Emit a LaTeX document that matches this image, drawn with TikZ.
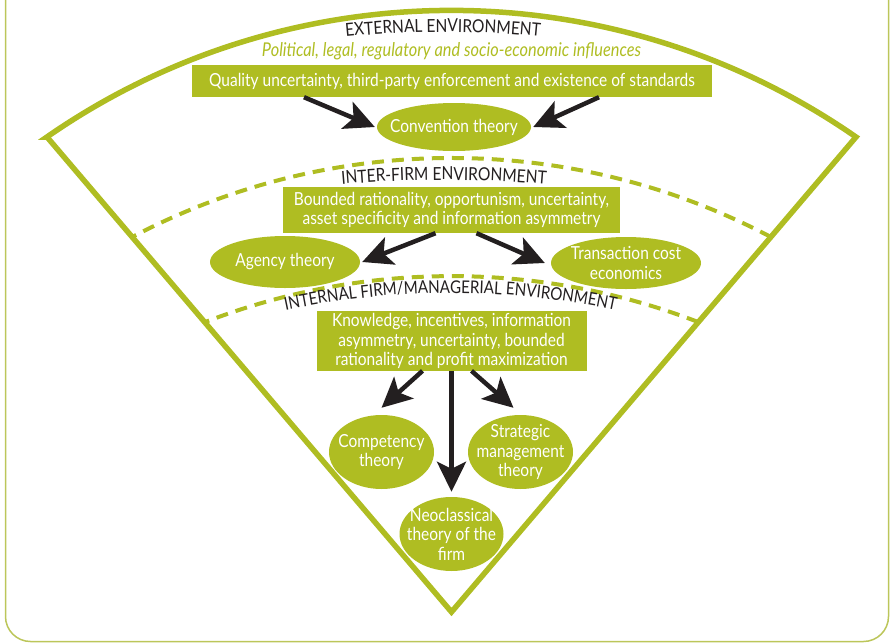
\documentclass[tikz,border=0pt]{standalone}
\usepackage{fontspec}
\setmainfont{Lato}[FakeStretch=0.86]
\usepackage{tikz}
\usetikzlibrary{arrows.meta,shapes.geometric,decorations.text,calc}
\definecolor{leaf}{RGB}{175,189,34}
\definecolor{ink}{RGB}{35,31,32}
\definecolor{framegreen}{RGB}{188,198,90}

\tikzset{
  box/.style={fill=leaf, text=white, align=center, inner sep=2pt, font=\fontsize{18}{19.5}\selectfont},
  oval/.style={ellipse, fill=leaf, text=white, align=center, inner xsep=-10pt, inner ysep=-3pt, font=\fontsize{18}{19.5}\selectfont},
  fatarrow/.style={color=ink, line width=4.5pt, -{Stealth[length=30pt, width=29pt, inset=7pt]}},
  sector/.style={draw=leaf, line width=5.5pt, line join=miter},
  layerline/.style={draw=leaf, line width=4pt, dash pattern=on 12pt off 8pt},
}

\begin{document}
\begin{tikzpicture}[x=1pt, y=1pt]
  \useasboundingbox (0,0) rectangle (892,-643);

  % frame and fan
  \draw [framegreen, line width=1.5pt, rounded corners=25pt] (5.5,30) -- (5.5,-641.5) -- (888.5,-641.5) -- (888.5,30);

  \coordinate (lc) at (47,-137);
  \coordinate (rc) at (856,-137);
  \coordinate (apex) at (451.5,-612);

  \draw [layerline] (770.9,-237) arc [start angle=62.2, end angle=117.8, radius=684.8];
  \draw [layerline] (698.1,-322) arc [start angle=68.9, end angle=111.1, radius=684.5];
  \draw [sector] (lc) -- (apex) -- (rc) arc [start angle=55.24, end angle=124.76, radius=709.6] -- cycle;

  % curved titles
  \coordinate (extc) at (443,-1032);
  \coordinate (interc) at (444,-1380);
  \coordinate (intc) at (450.5,-1093);
  \path [decorate, decoration={text along path, text align=center, text color=ink,
      text={|\fontsize{18}{18}\selectfont|EXTERNAL ENVIRONMENT}}]
    ($(extc)+(100:1000)$) arc [start angle=100, end angle=80, radius=1000];
  \path [decorate, decoration={text along path, text align=center, text color=ink,
      text={|\fontsize{18}{18}\selectfont|INTER-FIRM ENVIRONMENT}}]
    ($(interc)+(97:1200)$) arc [start angle=97, end angle=83, radius=1200];
  \path [decorate, decoration={text along path, text align=center, text color=ink,
      text={|\fontsize{17.6}{17.6}\selectfont|INTERNAL FIRM/MANAGERIAL ENVIRONMENT}}]
    ($(intc)+(107:800)$) arc [start angle=107, end angle=73, radius=800];

  \node (infl) [text=leaf, font=\fontsize{19}{22}\selectfont\itshape] at (451.5,-51) {Political, legal, regulatory and socio-economic influences};

  % boxes and theories
  \node (qual) [box, minimum width=520pt, minimum height=32pt] at (452,-81) {Quality uncertainty, third-party enforcement and existence of standards};
  \node (conv) [oval, minimum width=154pt, minimum height=48pt] at (454,-127) {Convention theory};

  \node (bound) [box, minimum width=337pt, minimum height=46pt] at (451.5,-210) {Bounded rationality, opportunism, uncertainty,\\asset specificity and information asymmetry};
  \node (agency) [oval, minimum width=150pt, minimum height=52pt] at (285,-262) {Agency theory};
  \node (trans) [oval, minimum width=150pt, minimum height=52pt] at (626,-263) {Transaction cost\\economics};

  \node (know) [box, minimum width=270pt, minimum height=59pt] at (451.5,-341) {Knowledge, incentives, information\\asymmetry, uncertainty, bounded\\rationality and profit maximization};
  \node (comp) [oval, minimum width=105pt, minimum height=74pt] at (381.5,-452) {Competency\\theory};
  \node (strat) [oval, minimum width=105pt, minimum height=74pt] at (520.5,-452) {Strategic\\management\\theory};
  \node (neo) [oval, minimum width=104pt, minimum height=74pt] at (451.5,-534) {Neoclassical\\theory of the\\firm};

  \path [fatarrow]
  ([xshift=-148pt]qual.south) edge ([xshift=-2pt]conv.west)
  ([xshift=147pt]qual.south) edge ([xshift=2pt]conv.east)
  ([xshift=-16pt]bound.south) edge ([xshift=2pt]agency.east)
  ([xshift=25pt]bound.south) edge ([xshift=-6pt]trans.west)
  ([xshift=-29pt]know.south) edge ([yshift=7pt]comp.north)
  (know.south) edge ([yshift=5pt]neo.north)
  ([xshift=20pt]know.south) edge ([xshift=-7pt, yshift=7pt]strat.north);

\end{tikzpicture}
\end{document}
